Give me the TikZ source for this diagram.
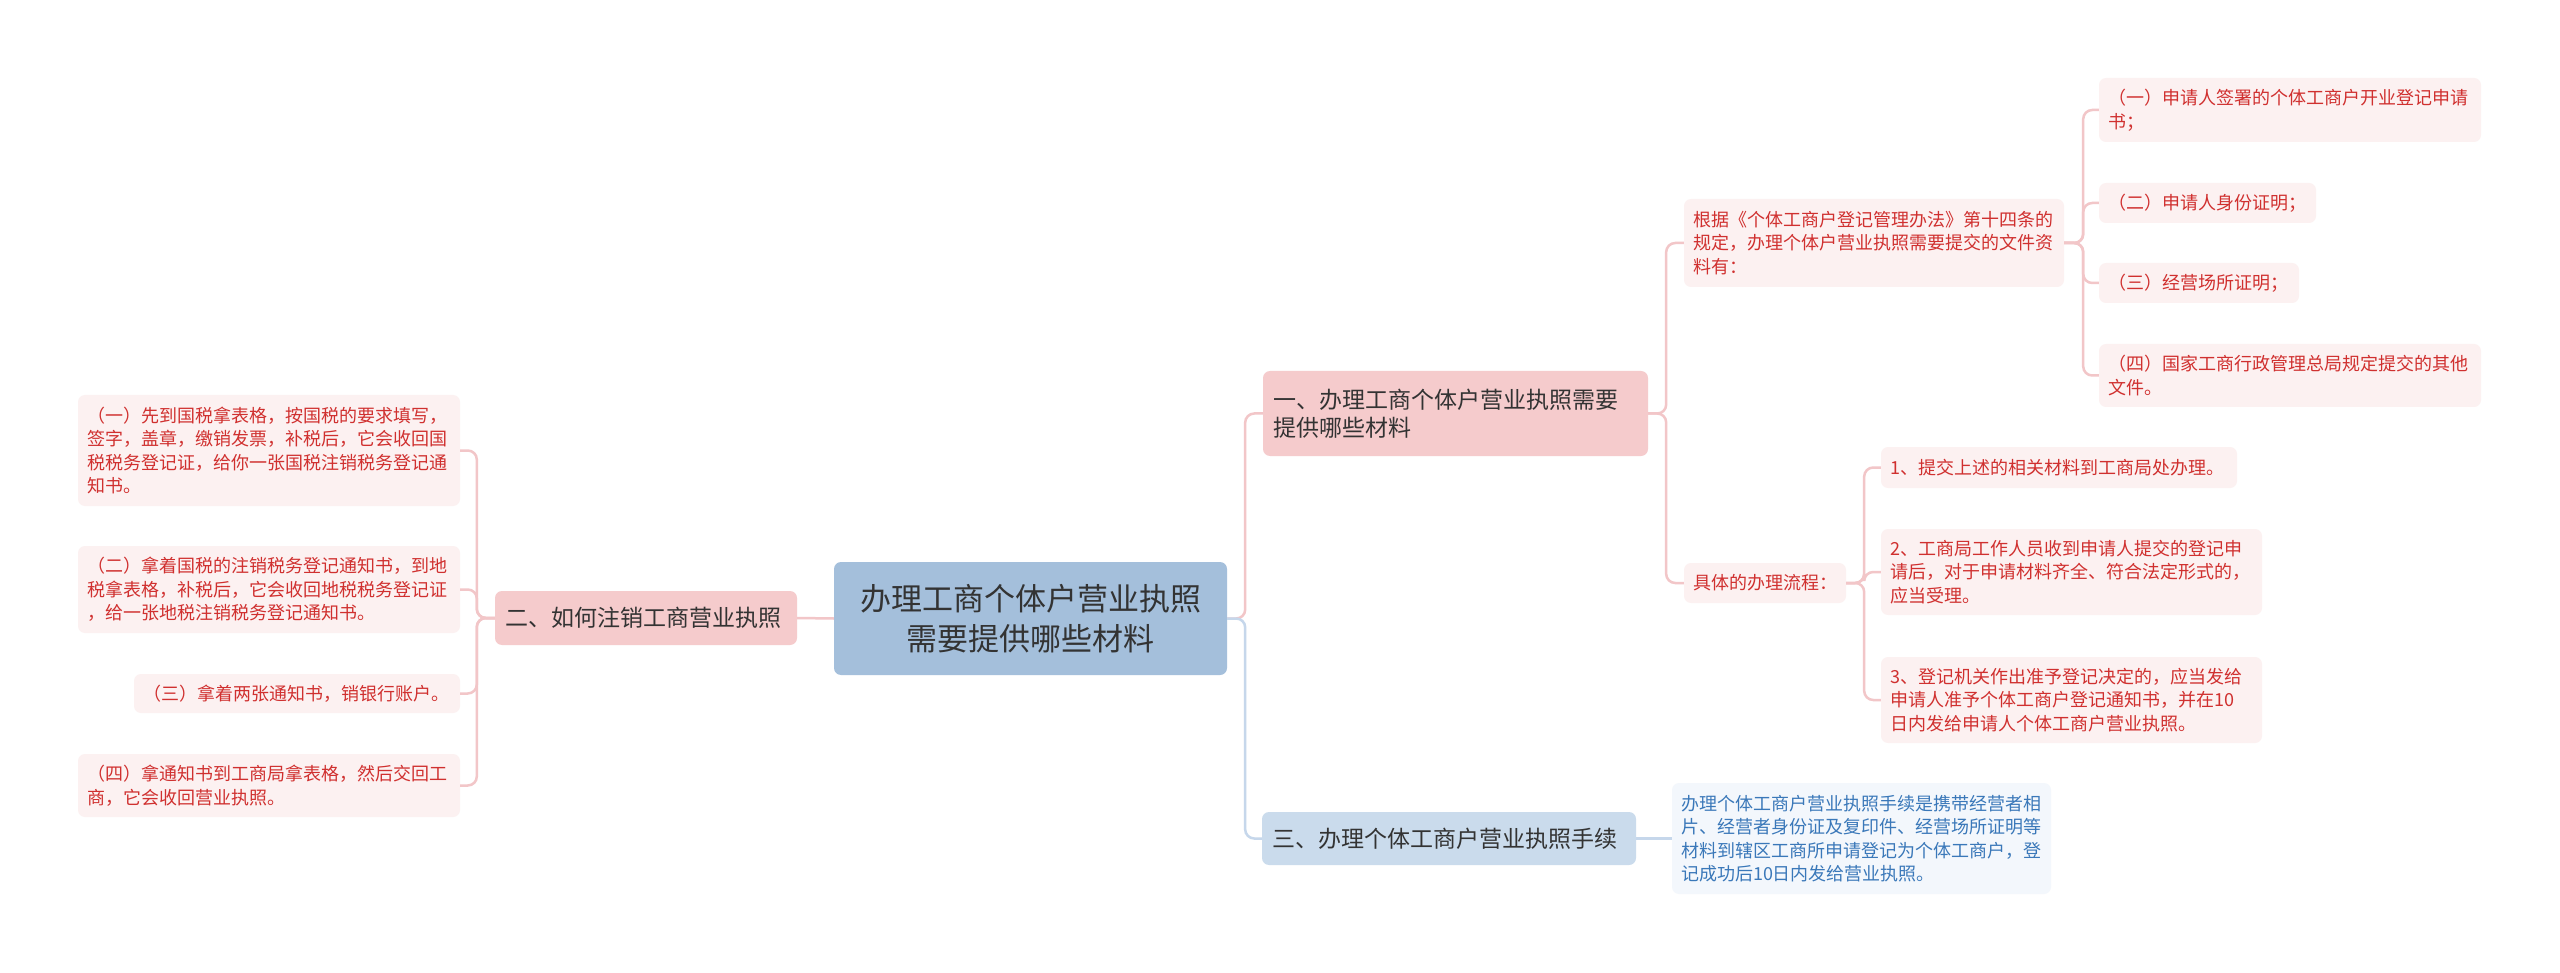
\documentclass[tikz,border=0pt]{standalone}
\usepackage{fontspec}
\newfontfamily\cjk{Noto Sans CJK SC}
\definecolor{rootblue}{HTML}{A4BFDB}
\definecolor{lonepink}{HTML}{F5CBCC}
\definecolor{loneblue}{HTML}{CADBEC}
\definecolor{leafpink}{HTML}{FCF1F1}
\definecolor{leafblue}{HTML}{F3F7FC}
\definecolor{leafred}{HTML}{D0302F}
\definecolor{leafbluetext}{HTML}{3A78B9}
\definecolor{darktext}{HTML}{333333}
\definecolor{linepink}{HTML}{F2C6C8}
\definecolor{lineblue}{HTML}{C6D7EB}
\begin{document}
\begin{tikzpicture}[x=1pt,y=-1pt,
  boxbase/.style={rectangle, rounded corners=7, inner xsep=9, inner ysep=2, align=left, anchor=center},
  leafr/.style={boxbase, fill=leafpink, text=leafred, font=\cjk\fontsize{18}{23.5}\selectfont},
  leafb/.style={boxbase, fill=leafblue, text=leafbluetext, font=\cjk\fontsize{18}{23.5}\selectfont},
  topr/.style={boxbase, inner xsep=10, fill=lonepink, text=darktext, font=\cjk\fontsize{23}{28}\selectfont},
  topb/.style={boxbase, inner xsep=10, fill=loneblue, text=darktext, font=\cjk\fontsize{23}{28}\selectfont},
  rootnode/.style={boxbase, fill=rootblue, text=darktext, align=center, font=\cjk\fontsize{31}{40}\selectfont},
  pl/.style={draw=linepink, line width=2.5, rounded corners=9},
  bl/.style={draw=lineblue, line width=2.5, rounded corners=9}
]
\fill[white] (0,0) rectangle (2560,973);
\useasboundingbox (0,0) rectangle (2560,973);

% root
\node[rootnode, minimum width=393, minimum height=113] (root) at (1030.5,618.5) {办理工商个体户营业执照\\需要提供哪些材料};

% level 1
\node[topr, text width=365, minimum height=85] (n1) at (1455.5,413.5) {一、办理工商个体户营业执照需要\\提供哪些材料};
\node[topr, text width=282, minimum height=54] (n2) at (646,618) {二、如何注销工商营业执照};
\node[topb, text width=354, minimum height=53] (n3) at (1449,838.5) {三、办理个体工商户营业执照手续};

% left leaves
\node[leafr, text width=364, minimum height=111] (a1) at (269,450.5) {（一）先到国税拿表格，按国税的要求填写，\\签字，盖章，缴销发票，补税后，它会收回国\\税税务登记证，给你一张国税注销税务登记通\\知书。};
\node[leafr, text width=364, minimum height=87] (a2) at (269,589.5) {（二）拿着国税的注销税务登记通知书，到地\\税拿表格，补税后，它会收回地税税务登记证\\，给一张地税注销税务登记通知书。};
\node[leafr, text width=308, minimum height=39] (a3) at (297,693.5) {（三）拿着两张通知书，销银行账户。};
\node[leafr, text width=364, minimum height=63] (a4) at (269,785.5) {（四）拿通知书到工商局拿表格，然后交回工\\商，它会收回营业执照。};

% right: documents
\node[leafr, text width=362, minimum height=88] (b) at (1874,243) {根据《个体工商户登记管理办法》第十四条的\\规定，办理个体户营业执照需要提交的文件资\\料有：};
\node[leafr, text width=364, minimum height=64] (b1) at (2290,110) {（一）申请人签署的个体工商户开业登记申请\\书；};
\node[leafr, text width=199, minimum height=40] (b2) at (2207.5,203) {（二）申请人身份证明；};
\node[leafr, text width=182, minimum height=40] (b3) at (2199,283) {（三）经营场所证明；};
\node[leafr, text width=364, minimum height=63] (b4) at (2290,375.5) {（四）国家工商行政管理总局规定提交的其他\\文件。};

% right: process
\node[leafr, text width=144, minimum height=40] (c) at (1765,583) {具体的办理流程：};
\node[leafr, text width=338, minimum height=41] (c1) at (2059,467.5) {1、提交上述的相关材料到工商局处办理。};
\node[leafr, text width=363, minimum height=86] (c2) at (2071.5,572) {2、工商局工作人员收到申请人提交的登记申\\请后，对于申请材料齐全、符合法定形式的，\\应当受理。};
\node[leafr, text width=363, minimum height=86] (c3) at (2071.5,700) {3、登记机关作出准予登记决定的，应当发给\\申请人准予个体工商户登记通知书，并在10\\日内发给申请人个体工商户营业执照。};

% right: procedure
\node[leafb, text width=361, minimum height=111] (d) at (1861.5,838.5) {办理个体工商户营业执照手续是携带经营者相\\片、经营者身份证及复印件、经营场所证明等\\材料到辖区工商所申请登记为个体工商户，登\\记成功后10日内发给营业执照。};

% connectors
\draw[pl] (root.west) -- (n2.east);
\draw[pl] (root.east) -- ++(18,0) |- (n1.west);
\draw[bl] (root.east) -- ++(18,0) |- (n3.west);
\foreach \t in {a1,a2,a3,a4}
  \draw[pl] (n2.west) -- ++(-18,0) |- (\t.east);
\draw[pl] (n1.east) -- ++(18,0) |- (b.west);
\draw[pl] (n1.east) -- ++(18,0) |- (c.west);
\foreach \t in {b1,b2,b3,b4}
  \draw[pl] (b.east) -- ++(19,0) |- (\t.west);
\foreach \t in {c1,c2,c3}
  \draw[pl] (c.east) -- ++(18,0) |- (\t.west);
\draw[bl] (n3.east) -- (d.west);
\end{tikzpicture}
\end{document}
